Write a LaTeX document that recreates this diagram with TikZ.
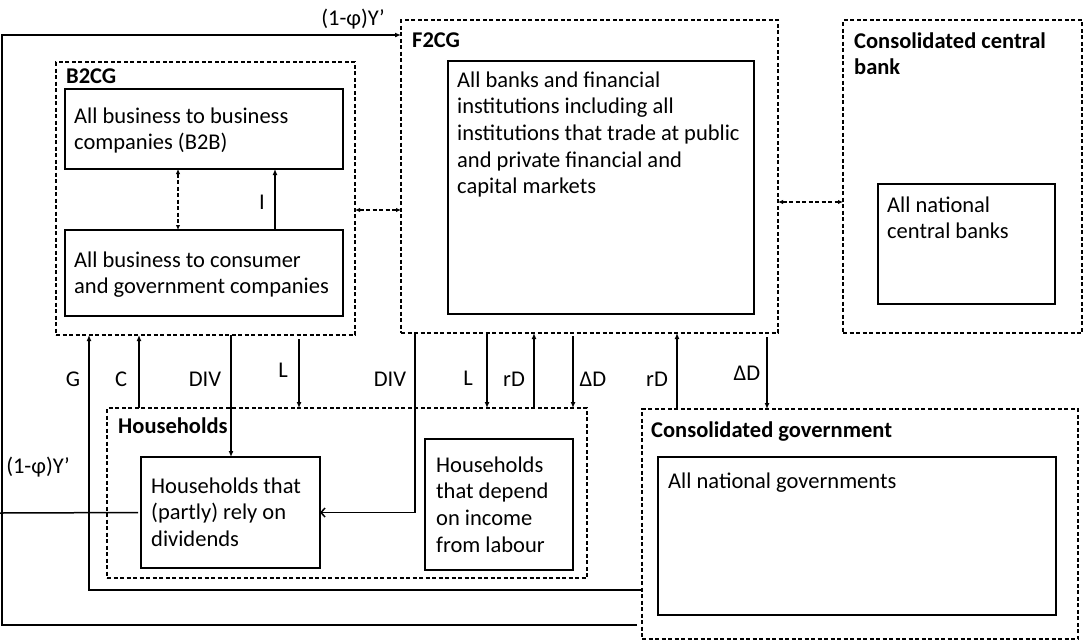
\documentclass[tikz,border=0pt]{standalone}
\usepackage{fontspec}
\setmainfont{Carlito}
\usetikzlibrary{arrows.meta}
\newcommand\mltext[1]{\begin{tabular}[t]{@{}l@{}}#1\end{tabular}}
\begin{document}
\begin{tikzpicture}[x=1pt,y=-1pt,
  sbox/.style={draw, line width=2pt, inner sep=0pt, outer sep=0pt, anchor=north west},
  dbox/.style={draw, line width=1.7pt, dash pattern=on 4pt off 2.5pt, inner sep=0pt, outer sep=0pt, anchor=north west},
  txt/.style={anchor=base west, inner sep=0pt, font=\fontsize{22.5}{26.7}\selectfont},
  ttl/.style={txt, font=\fontsize{22.5}{26.7}\selectfont\bfseries},
  lab/.style={anchor=base, inner sep=0pt, font=\fontsize{22.5}{26.7}\selectfont},
  arr/.style={line width=1.5pt, -{Latex[length=6pt,width=5pt]}},
  openarr/.style={line width=1.5pt, -{Straight Barb[length=4pt,width=9pt]}},
  darr/.style={line width=1.5pt, dash pattern=on 4pt off 2.5pt, {Latex[length=5pt,width=4.5pt]}-{Latex[length=5pt,width=4.5pt]}},
  plain/.style={line width=1.5pt}
]
\useasboundingbox (0,0) rectangle (1084,641);

% group boxes
\node[dbox, minimum width=299pt, minimum height=273pt] (b2cg) at (56,62) {};
\node[dbox, minimum width=377pt, minimum height=313pt] (f2cg) at (401,20) {};
\node[dbox, minimum width=239pt, minimum height=313pt] (ccb) at (843,20) {};
\node[dbox, minimum width=480pt, minimum height=170pt] (hh) at (107,408) {};
\node[dbox, minimum width=436pt, minimum height=230pt] (gov) at (642,409) {};

% inner boxes
\node[sbox, minimum width=278pt, minimum height=80pt] (b2b) at (65,89) {};
\node[sbox, minimum width=278pt, minimum height=86pt] (b2c) at (65,230) {};
\node[sbox, minimum width=306pt, minimum height=253pt] (fin) at (448,61) {};
\node[sbox, minimum width=177pt, minimum height=120pt] (ncb) at (878,184) {};
\node[sbox, minimum width=179pt, minimum height=111pt] (hhd) at (141,457) {};
\node[sbox, minimum width=148pt, minimum height=131pt] (hhl) at (425,439) {};
\node[sbox, minimum width=398pt, minimum height=158pt] (natg) at (658,457) {};

% titles
\node[ttl] (tb2cg) at (66,83) {B2CG};
\node[ttl] (tf2cg) at (412,47) {F2CG};
\node[ttl] (tccb) at (854,48) {\mltext{Consolidated central\\bank}};
\node[ttl] (thh) at (118,433) {Households};
\node[ttl] (tgov) at (651,437) {Consolidated government};

% texts
\node[txt] (xb2b) at (74,123) {\mltext{All business to business\\companies (B2B)}};
\node[txt] (xb2c) at (74,267) {\mltext{All business to consumer\\and government companies}};
\node[txt] (xfin) at (457,87) {\mltext{All banks and financial\\institutions including all\\institutions that trade at public\\and private financial and\\capital markets}};
\node[txt] (xncb) at (887,212) {\mltext{All national\\central banks}};
\node[txt] (xhhd) at (151,493) {\mltext{Households that\\(partly) rely on\\dividends}};
\node[txt] (xhhl) at (436,472) {\mltext{Households\\that depend\\on income\\from labour}};
\node[txt] (xnatg) at (668,488) {All national governments};

% connectors
\draw[darr] (b2b.south -| 178,0) -- (b2c.north -| 178,0);
\draw[arr] (b2c.north -| 275,0) -- (b2b.south -| 275,0);
\draw[darr] (b2cg.east |- 0,210) -- (f2cg.west |- 0,210);
\draw[darr] (f2cg.east |- 0,202) -- (ccb.west |- 0,202);

\draw[arr] (gov.west |- 0,590) -| (b2cg.south -| 89,0);
\draw[arr] (hh.north -| 139,0) -- (b2cg.south -| 139,0);
\draw[arr] (b2cg.south -| 231,0) -- (hhd.north -| 231,0);
\draw[arr, shorten <=4pt] (b2cg.south -| 299,0) -- (hh.north -| 299,0);
\draw[openarr] (f2cg.south -| 415,0) |- (hhd.east);
\draw[arr] (f2cg.south -| 487,0) -- (hh.north -| 487,0);
\draw[arr] (hh.north -| 534,0) -- (f2cg.south -| 534,0);
\draw[arr, shorten <=3pt] (f2cg.south -| 573,0) -- (hh.north -| 573,0);
\draw[arr] (gov.north -| 677,0) -- (f2cg.south -| 677,0);
\draw[arr, shorten <=4pt] (f2cg.south -| 767,0) -- (gov.north -| 767,0);

\draw[arr, shorten <=5pt] (gov.west |- 0,625) -- (2,625) -- (2,35) -- (f2cg.west |- 0,35);
\coordinate (lend) at (0,513);
\draw[plain, shorten <=3pt] (hhd.west) -- (lend);

% labels
\node[lab] (l1) at (353,25) {(1-φ)Y’};
\node[lab] (l2) at (38,473) {(1-φ)Y’};
\node[lab] (lI) at (262,209) {I};
\node[lab] (lG) at (73,386) {G};
\node[lab] (lC) at (121,386) {C};
\node[lab] (lDIV1) at (205,386) {DIV};
\node[lab] (lL1) at (283,377) {L};
\node[lab] (lDIV2) at (390,386) {DIV};
\node[lab] (lL2) at (468,385) {L};
\node[lab] (lrD1) at (514,386) {rD};
\node[lab] (lDD1) at (593,386) {ΔD};
\node[lab] (lrD2) at (657,386) {rD};
\node[lab] (lDD2) at (747,380) {ΔD};
\end{tikzpicture}
\end{document}
